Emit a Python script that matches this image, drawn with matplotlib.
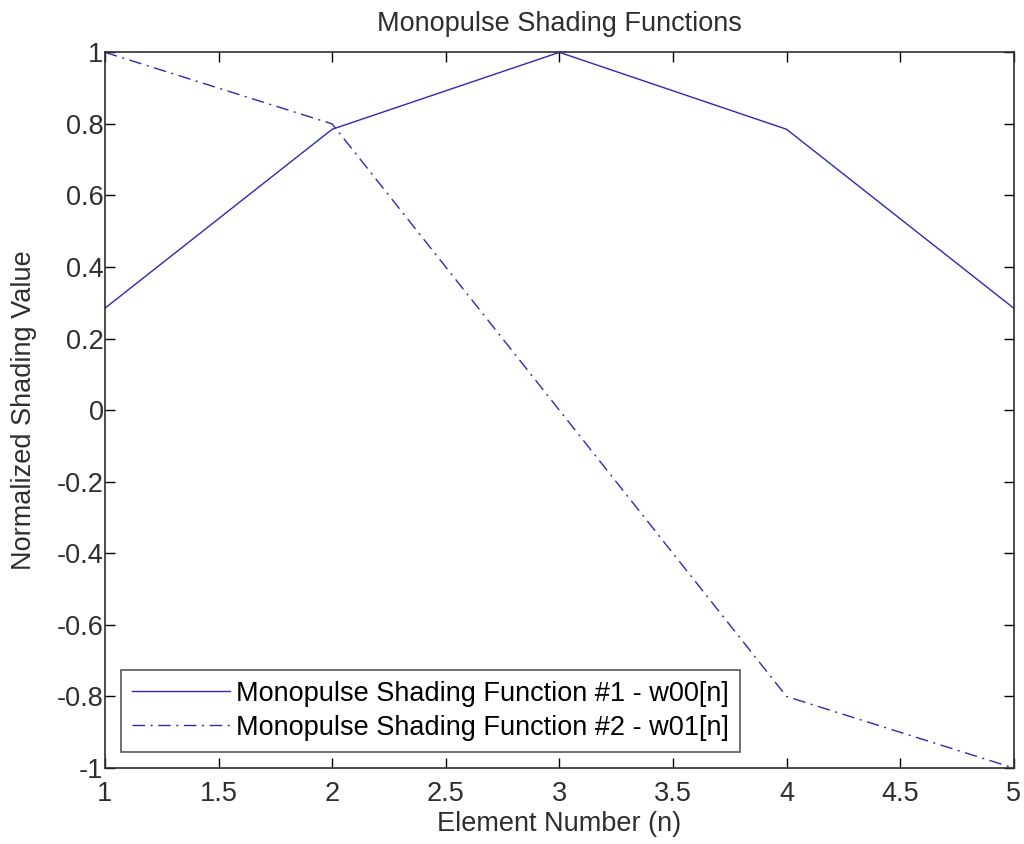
import matplotlib.pyplot as plt

plt.rcParams['font.family'] = ['Liberation Sans', 'DejaVu Sans']

# Data
n = [1, 2, 3, 4, 5]
w00 = [0.285, 0.785, 1.0, 0.785, 0.285]
w01 = [1.0, 0.8, 0.0, -0.8, -1.0]
xticks = [1, 1.5, 2, 2.5, 3, 3.5, 4, 4.5, 5]
yticks = [-1, -0.8, -0.6, -0.4, -0.2, 0, 0.2, 0.4, 0.6, 0.8, 1]

color = '#2a2ab4'
tc = '#2e2e2e'
fs = 19.5

fig = plt.figure(figsize=(10.24, 8.44), dpi=100)
ax = fig.add_axes([0.1025, 0.090, 0.8875, 0.848])

ax.plot(n, w00, color=color, lw=1.0, linestyle='-',
        label='Monopulse Shading Function #1 - w00[n]')
ax.plot(n, w01, color=color, lw=1.0, linestyle=(0, (9, 4, 1.5, 4)),
        label='Monopulse Shading Function #2 - w01[n]')

ax.set_xlim(1, 5)
ax.set_ylim(-1, 1)
ax.set_xticks(xticks)
ax.set_xticklabels([f'{t:g}' for t in xticks])
ax.set_yticks(yticks)
ax.set_yticklabels([f'{t:g}' for t in yticks])
ax.tick_params(direction='in', length=7, width=1, labelsize=fs, top=True, right=True,
               labelcolor=tc)
ax.tick_params(axis='x', pad=9)
ax.tick_params(axis='y', pad=1)
for s in ax.spines.values():
    s.set_linewidth(1.2)
    s.set_color(tc)

ax.set_title('Monopulse Shading Functions', fontsize=fs, color=tc, pad=15)
ax.set_xlabel('Element Number (n)', fontsize=fs, color=tc, labelpad=3)
ax.set_ylabel('Normalized Shading Value', fontsize=fs, color=tc, labelpad=14)

leg = ax.legend(loc='lower left', fontsize=fs, frameon=True, fancybox=False,
                edgecolor=tc, handlelength=3.6, handletextpad=0.25,
                borderpad=0.4, labelspacing=0.3, borderaxespad=0.6)
leg.get_frame().set_linewidth(1.2)

fig.savefig('out.png', dpi=100)
